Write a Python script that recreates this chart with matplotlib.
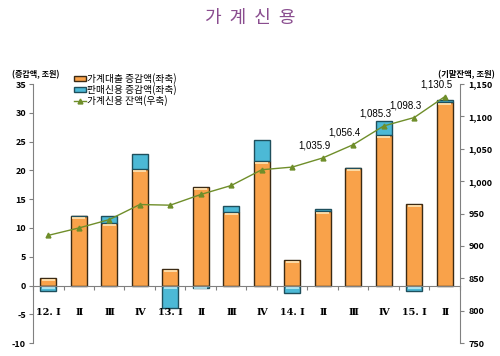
import matplotlib.pyplot as plt
import numpy as np

plt.rcParams['font.family'] = ['Noto Sans CJK KR', 'DejaVu Sans']
plt.rcParams['axes.unicode_minus'] = False

# data
quarters = ['12. Ⅰ', 'Ⅱ', 'Ⅲ', 'Ⅳ', '13. Ⅰ', 'Ⅱ', 'Ⅲ', 'Ⅳ',
            '14. Ⅰ', 'Ⅱ', 'Ⅲ', 'Ⅳ', '15. Ⅰ', 'Ⅱ']
loan_change = [1.4, 12.1, 10.8, 20.2, 2.8, 17.1, 12.7, 21.6,
               4.5, 13.0, 20.5, 26.2, 14.2, 31.8]
sales_change = [-1.0, 0.0, 1.3, 2.7, -3.9, -0.5, 1.1, 3.7,
                -1.2, 0.3, 0.0, 2.4, -1.0, 0.4]
credit_balance = [916.4, 927.8, 940.7, 964.0, 963.0, 979.5, 993.4, 1017.7,
                  1021.8, 1035.9, 1056.4, 1085.3, 1098.3, 1130.5]
labeled_points = [9, 10, 11, 12, 13]

orange = '#F9A24A'
blue = '#4CB9D6'
green = '#6F8E2A'
edge = '#3B2A14'

fig = plt.figure(figsize=(5, 3.56), dpi=100)
ax = fig.add_axes([0.066, 0.036, 0.854, 0.728])
x = np.arange(len(quarters))
w = 0.52

loan = np.array(loan_change)
sales = np.array(sales_change)
sales_bottom = np.where(sales >= 0, loan, 0)

ax.bar(x, loan, w, color=orange, edgecolor=edge, linewidth=1.0, zorder=2,
       label='가계대출 증감액(좌축)')
ax.bar(x, sales, w, bottom=sales_bottom, color=blue, edgecolor='#1F4F5C',
       linewidth=1.0, zorder=2, label='판매신용 증감액(좌축)')
# light highlight near segment tops
ax.hlines(loan - 0.35, x - w / 2 + 0.04, x + w / 2 - 0.04, color='#FDE6B8',
          linewidth=1.2, zorder=3)
neg = sales < 0
ax.hlines(-0.35 * neg.astype(float)[neg], (x - w / 2 + 0.04)[neg], (x + w / 2 - 0.04)[neg],
          color='#BDEBF5', linewidth=1.2, zorder=3)

ax.set_xlim(-0.5, len(quarters) - 0.5)
ax.set_ylim(-10, 35)
ax.set_yticks(np.arange(-10, 36, 5))
ax.tick_params(axis='y', labelsize=6.5, length=3, color='#808080', pad=2)
for lab in ax.get_yticklabels():
    lab.set_fontweight('bold')

ax.spines['top'].set_visible(False)
ax.spines['right'].set_visible(False)
ax.spines['left'].set_color('#808080')
ax.spines['bottom'].set_position(('data', 0))
ax.spines['bottom'].set_color('#808080')
ax.set_xticks(np.arange(-0.5, len(quarters), 1))
ax.tick_params(axis='x', length=3, color='#808080', labelbottom=False)

for i, q in enumerate(quarters):
    ax.text(i, -4.7, q, ha='center', va='center', fontsize=7,
            fontweight='bold', family=['DejaVu Serif', 'Noto Sans CJK KR'])

ax2 = ax.twinx()
ax2.set_ylim(750, 1150)
ax2.set_yticks(np.arange(750, 1151, 50))
ax2.set_yticklabels([f'{v:,}' for v in range(750, 1151, 50)])
ax2.tick_params(axis='y', labelsize=6.5, length=3, color='#808080', pad=3)
for lab in ax2.get_yticklabels():
    lab.set_fontweight('bold')
for s in ['top', 'left', 'bottom']:
    ax2.spines[s].set_visible(False)
ax2.spines['right'].set_color('#808080')

line, = ax2.plot(x, credit_balance, color=green, marker='^', markersize=3.5,
                 linewidth=1.0, zorder=4, label='가계신용 잔액(우축)')
for i in labeled_points:
    ax2.annotate(f'{credit_balance[i]:,.1f}', (x[i], credit_balance[i]),
                 xytext=(-6, 5), textcoords='offset points', ha='center',
                 va='bottom', fontsize=7, family=['Liberation Sans'])

h1, l1 = ax.get_legend_handles_labels()
fig.legend(h1 + [line], l1 + [line.get_label()], loc='upper left',
           bbox_to_anchor=(0.14, 0.806), frameon=False, fontsize=7,
           handlelength=1.2, handleheight=0.5, labelspacing=0.03,
           handletextpad=0.15, borderaxespad=0)

fig.text(0.5, 0.95, '가  계  신  용', ha='center', va='center',
         fontsize=13, color='#8A4D8F')
fig.text(0.024, 0.79, '(증감액, 조원)', fontsize=5.8, fontweight='bold',
         ha='left', va='center')
fig.text(0.99, 0.79, '(기말잔액, 조원)', fontsize=6, fontweight='bold',
         ha='right', va='center')

fig.savefig('out.png', dpi=100)
